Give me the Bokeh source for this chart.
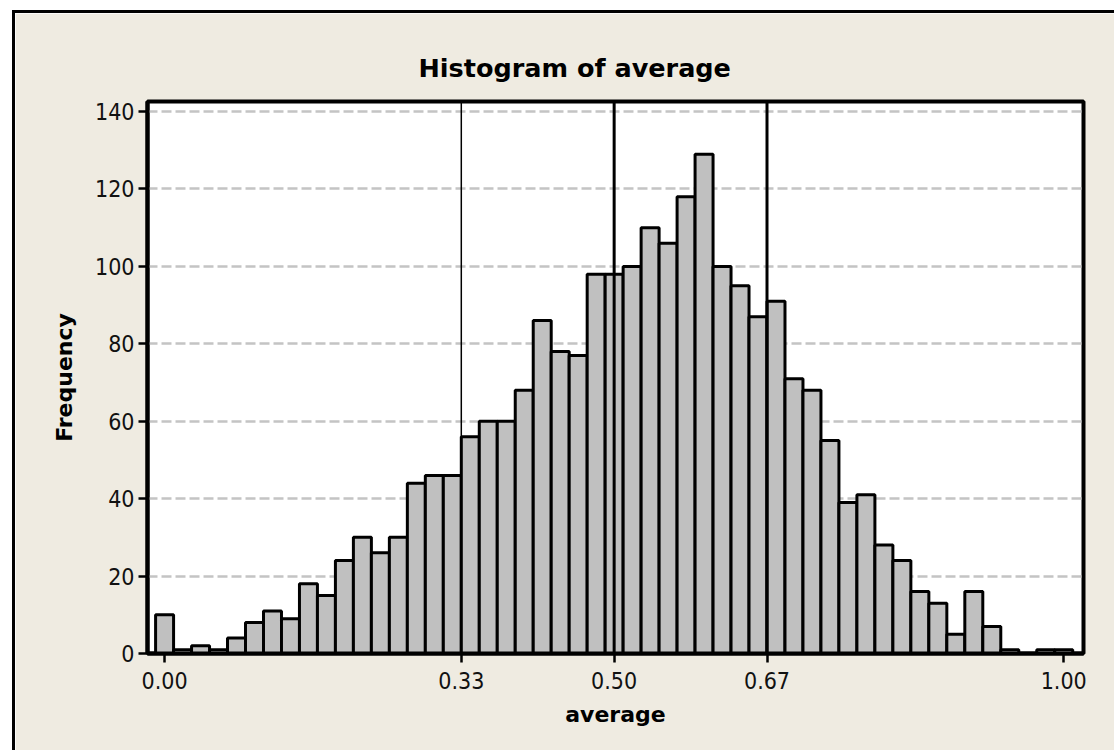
from bokeh.plotting import figure
from bokeh.models import Span, FixedTicker, Range1d, NumeralTickFormatter
from bokeh.embed import file_html
from bokeh.resources import INLINE

# ---- data ----
bin_centers = [0.00, 0.02, 0.04, 0.06, 0.08, 0.10, 0.12, 0.14, 0.16, 0.18,
               0.20, 0.22, 0.24, 0.26, 0.28, 0.30, 0.32, 0.34, 0.36, 0.38,
               0.40, 0.42, 0.44, 0.46, 0.48, 0.50, 0.52, 0.54, 0.56, 0.58,
               0.60, 0.62, 0.64, 0.66, 0.68, 0.70, 0.72, 0.74, 0.76, 0.78,
               0.80, 0.82, 0.84, 0.86, 0.88, 0.90, 0.92, 0.94, 0.96, 0.98,
               1.00]
frequency = [10, 1, 2, 1, 4, 8, 11, 9, 18, 15,
             24, 30, 26, 30, 44, 46, 46, 56, 60, 60,
             68, 86, 78, 77, 98, 98, 100, 110, 106, 118,
             129, 100, 95, 87, 91, 71, 68, 55, 39, 41,
             28, 24, 16, 13, 5, 16, 7, 1, 0, 1,
             1]
x_ticks = [0.00, 0.33, 0.50, 0.67, 1.00]
y_ticks = [0, 20, 40, 60, 80, 100, 120, 140]
ref_lines = [0.33, 0.50, 0.67]
bin_width = 0.02

BG = "#EFEBE1"

p = figure(width=1102, height=740,
           x_range=Range1d(-0.019, 1.022), y_range=Range1d(0, 142.6),
           output_backend="svg", toolbar_location=None,
           min_border_left=132, min_border_right=34,
           min_border_top=88, min_border_bottom=100,
           background_fill_color="white", border_fill_color=BG)
p.styles = {"margin-left": "12px", "margin-top": "10px",
            "border-left": "3px solid black", "border-top": "3px solid black"}

p.vbar(x=bin_centers, top=frequency, width=bin_width, bottom=0,
       fill_color="#C0C0C0", line_color="black", line_width=3)

for loc, lw in zip(ref_lines, [1.5, 3, 3]):
    p.add_layout(Span(location=loc, dimension="height",
                      line_color="black", line_width=lw))

# title
p.title.text = "Histogram of average"
p.title.align = "left"
p.title.offset = 271
p.title.standoff = 37
p.title.text_font = "DejaVu Sans"
p.title.text_font_size = "25.5px"
p.title.text_font_style = "bold"
p.title.text_color = "black"

# frame
p.outline_line_color = "black"
p.outline_line_width = 4

# grid
p.xgrid.grid_line_color = None
p.ygrid.grid_line_color = "#C4C4C4"
p.ygrid.grid_line_width = 2.5
p.ygrid.grid_line_dash = "10 4"

# axes
p.xaxis.ticker = FixedTicker(ticks=x_ticks)
p.xaxis.formatter = NumeralTickFormatter(format="0.00")
p.yaxis.ticker = FixedTicker(ticks=y_ticks)
for ax in (p.xaxis[0], p.yaxis[0]):
    ax.axis_line_color = "black"
    ax.axis_line_width = 4
    ax.major_tick_line_color = "black"
    ax.major_tick_line_width = 2.5
    ax.major_tick_out = 9
    ax.major_tick_in = 0
    ax.minor_tick_line_color = None
    ax.major_label_text_font = "DejaVu Sans Condensed"
    ax.major_label_text_font_size = "23px"
    ax.major_label_text_color = "#111111"
    ax.axis_label_text_font = "DejaVu Sans"
    ax.axis_label_text_font_size = "22px"
    ax.axis_label_text_font_style = "bold"
    ax.axis_label_text_color = "black"
p.xaxis.axis_label = "average"
p.yaxis.axis_label = "Frequency"
p.xaxis.major_label_standoff = 9
p.yaxis.major_label_standoff = 4
p.xaxis.axis_label_standoff = 10
p.yaxis.axis_label_standoff = 15

open("out.html", "w").write(file_html(p, INLINE))
